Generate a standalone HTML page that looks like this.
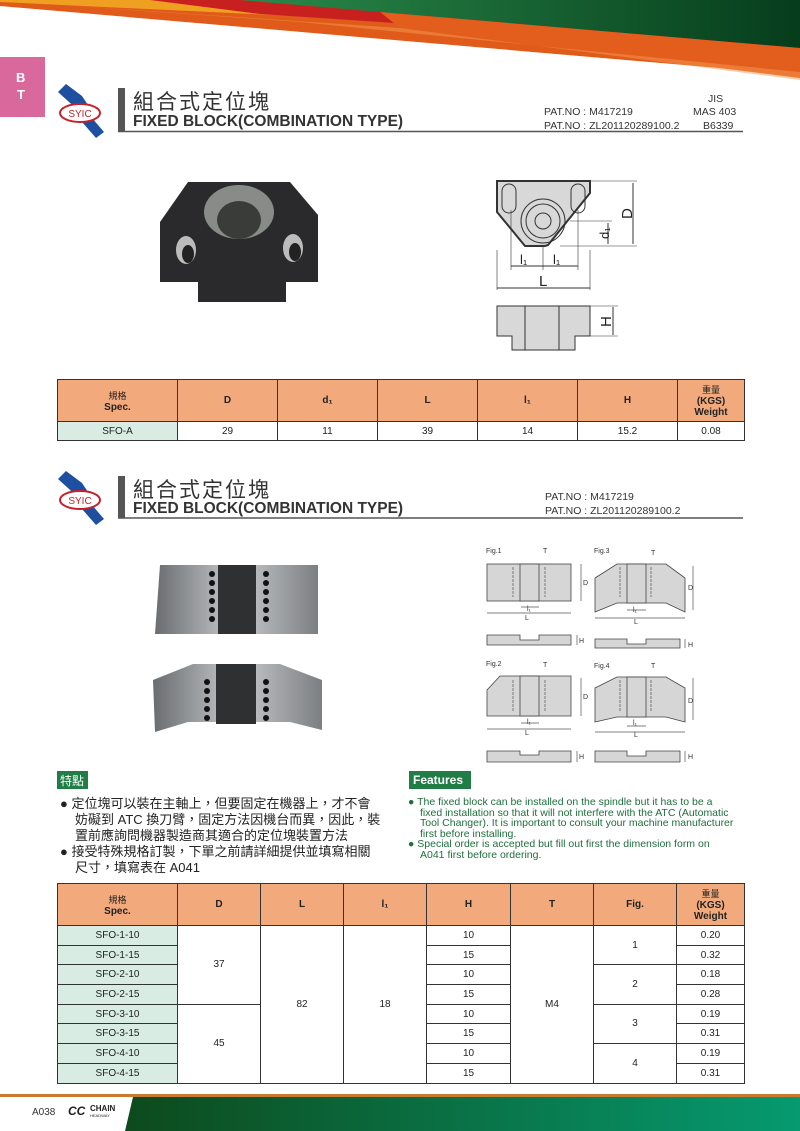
<!DOCTYPE html>
<html><head><meta charset="utf-8"><style>
*{margin:0;padding:0;box-sizing:border-box}
body{width:800px;height:1131px;position:relative;background:#fff;font-family:"Liberation Sans","Noto Sans CJK TC",sans-serif;overflow:hidden;color:#222}
.a{position:absolute}
table{border-collapse:collapse;position:absolute;font-size:10px;text-align:center}
td{border:1.5px solid #333;padding:0}
.h td{background:#f2a97c;font-weight:bold;font-size:10px}
.s{background:#d8ece4}
.ttl{font-size:21px;letter-spacing:2px;color:#333}
.en{font-size:15.5px;font-weight:bold;color:#333}
.pat{font-size:10.5px;color:#333}
</style></head><body>
<svg class="a" style="left:0;top:0" width="800" height="1131">
<defs>
<linearGradient id="g1" x1="0" x2="1"><stop offset="0" stop-color="#2a8a4a"/><stop offset="1" stop-color="#063d1c"/></linearGradient>
<linearGradient id="g2" x1="0" x2="1"><stop offset="0" stop-color="#0d4a1c"/><stop offset="1" stop-color="#069a70"/></linearGradient>
<linearGradient id="met" x1="0" x2="1"><stop offset="0" stop-color="#6a6d70"/><stop offset=".5" stop-color="#c8cbcd"/><stop offset="1" stop-color="#7c7f82"/></linearGradient>
</defs>
<polygon points="0,0 800,0 800,75 0,6" fill="#e05a1a"/>
<polygon points="0,0 800,0 800,55 380,20 0,2" fill="#f0a020"/>
<polygon points="150,0 800,0 800,50 260,14" fill="#c8201e"/>
<polygon points="240,0 800,0 800,48 380,12" fill="url(#g1)"/>
<polygon points="380,12 800,48 800,78 400,28" fill="#e35d1c"/>
<polygon points="30,3 400,28 800,80 800,72 300,22" fill="#f39a50" opacity=".5"/>
<rect x="0" y="57" width="45" height="60" fill="#d9699c"/>
<text x="16" y="82" font-size="13" font-weight="bold" fill="#fff" font-family="Liberation Sans">B</text>
<text x="17" y="99" font-size="13" font-weight="bold" fill="#fff" font-family="Liberation Sans">T</text>
<g id="logo">
<polygon points="58,92 66,84 82,96 90,108 80,112" fill="#1e4fa0"/>
<polygon points="82,122 92,118 104,132 96,138" fill="#1e4fa0"/>
<ellipse cx="80" cy="113" rx="20" ry="9" fill="#fff" stroke="#c8202a" stroke-width="2"/>
<text x="80" y="117" font-size="10" fill="#c8202a" text-anchor="middle" font-family="Liberation Sans">SYIC</text>
</g>
<use href="#logo" y="387"/>
<rect x="118" y="88" width="7" height="43" fill="#555"/>
<rect x="118" y="476" width="7" height="42" fill="#555"/>
<line x1="118" y1="131.5" x2="743" y2="131.5" stroke="#555" stroke-width="1.5"/>
<line x1="118" y1="518" x2="743" y2="518" stroke="#555" stroke-width="1.5"/>
<polygon points="188,182 290,182 318,215 318,282 286,282 286,302 198,302 198,282 160,282 160,222" fill="#2a2a2c"/>
<ellipse cx="239" cy="212" rx="35" ry="27" fill="#888c88"/>
<ellipse cx="239" cy="220" rx="22" ry="19" fill="#3a3c3a"/>
<ellipse cx="186" cy="250" rx="10" ry="14" fill="#bcbcbc"/><ellipse cx="188" cy="254" rx="6" ry="9" fill="#222"/>
<ellipse cx="293" cy="248" rx="10" ry="14" fill="#bcbcbc"/><ellipse cx="295" cy="252" rx="6" ry="9" fill="#222"/>
<g stroke="#333" fill="none" stroke-width="1">
<polygon points="497,181 590,181 590,193 548,245 545,246 525,246 497,212" fill="#d8d8d8" stroke-width="2"/>
<rect x="502" y="184" width="14" height="29" rx="7"/><rect x="571" y="184" width="14" height="29" rx="7"/>
<circle cx="543" cy="221" r="22"/><circle cx="543" cy="221" r="17"/><circle cx="543" cy="221" r="8"/>
<line x1="590" y1="181" x2="637" y2="181" stroke-width=".6"/><line x1="560" y1="246" x2="637" y2="246" stroke-width=".6"/>
<line x1="633" y1="183" x2="633" y2="244"/><line x1="570" y1="221" x2="612" y2="221" stroke-width=".6"/><line x1="608" y1="223" x2="608" y2="244"/>
<line x1="497" y1="250" x2="497" y2="290" stroke-width=".6"/><line x1="590" y1="250" x2="590" y2="290" stroke-width=".6"/>
<line x1="511" y1="210" x2="511" y2="270" stroke-width=".6"/><line x1="578" y1="210" x2="578" y2="270" stroke-width=".6"/><line x1="543" y1="246" x2="543" y2="270" stroke-width=".6"/>
<line x1="511" y1="266" x2="578" y2="266"/><line x1="497" y1="288" x2="590" y2="288"/>
<polygon points="497,306 590,306 590,336 575,336 575,350 512,350 512,336 497,336" fill="#d8d8d8"/>
<line x1="525" y1="306" x2="525" y2="350"/><line x1="559" y1="306" x2="559" y2="350"/>
<line x1="590" y1="306" x2="618" y2="306" stroke-width=".6"/><line x1="590" y1="336" x2="618" y2="336" stroke-width=".6"/><line x1="613" y1="307" x2="613" y2="335"/>
</g>
<g font-family="Liberation Sans" fill="#222" font-size="15">
<text x="619" y="218" transform="rotate(-90 626 212)">D</text>
<text x="593" y="241" transform="rotate(-90 600 232)" font-size="13">d₁</text>
<text x="520" y="264" font-size="13">l₁</text><text x="553" y="264" font-size="13">l₁</text>
<text x="539" y="286">L</text>
<text x="598" y="328" transform="rotate(-90 604 321)">H</text>
</g>
<polygon points="160,565 318,565 318,634 155,634" fill="url(#met)"/>
<rect x="218" y="565" width="38" height="69" fill="#2e3032"/>
<polygon points="153,680 193,664 280,664 322,680 322,730 290,722 188,722 155,732" fill="url(#met)"/>
<rect x="216" y="664" width="40" height="60" fill="#2e3032"/>
<g fill="#111"><circle cx="212" cy="574" r="3"/><circle cx="212" cy="583" r="3"/><circle cx="212" cy="592" r="3"/><circle cx="212" cy="601" r="3"/><circle cx="212" cy="610" r="3"/><circle cx="212" cy="619" r="3"/>
<circle cx="266" cy="574" r="3"/><circle cx="266" cy="583" r="3"/><circle cx="266" cy="592" r="3"/><circle cx="266" cy="601" r="3"/><circle cx="266" cy="610" r="3"/><circle cx="266" cy="619" r="3"/>
<circle cx="207" cy="682" r="3"/><circle cx="207" cy="691" r="3"/><circle cx="207" cy="700" r="3"/><circle cx="207" cy="709" r="3"/><circle cx="207" cy="718" r="3"/>
<circle cx="266" cy="682" r="3"/><circle cx="266" cy="691" r="3"/><circle cx="266" cy="700" r="3"/><circle cx="266" cy="709" r="3"/><circle cx="266" cy="718" r="3"/></g>
<g stroke="#444" stroke-width=".8" fill="#d6d6d6">
<rect x="487" y="564" width="84" height="37"/><rect x="520" y="564" width="19" height="37"/>
<polygon points="595,578 617,564 666,564 685,578 685,612 666,603 617,603 595,612"/><rect x="627" y="564" width="19" height="39"/>
<polygon points="487,690 500,676 571,676 571,716 487,716"/><rect x="520" y="676" width="19" height="40"/>
<polygon points="595,688 617,677 666,677 685,688 685,722 666,717 617,717 595,722"/><rect x="627" y="677" width="19" height="40"/>
<polygon points="487,635 520,635 520,640 539,640 539,635 571,635 571,645 487,645"/>
<polygon points="595,639 627,639 627,644 646,644 646,639 680,639 680,648 595,648"/>
<polygon points="487,751 520,751 520,755 539,755 539,751 571,751 571,762 487,762"/>
<polygon points="595,751 627,751 627,756 646,756 646,751 680,751 680,762 595,762"/>
</g>
<g fill="none" stroke="#555" stroke-width=".7">
<path d="M513 567v30M545 567v30M620 567v30M651 567v30M513 680v32M545 680v32M620 680v32M651 680v32" stroke-dasharray="3 1"/>
<path d="M487 613h84M521 607h18M595 618h90M627 610h19M487 729h84M521 723h18M595 732h90M627 726h19M581 564v37M693 566v44M581 678v38M693 678v42M577 635v10M685 639v9M577 751v11M685 751v11"/>
</g>
<g font-family="Liberation Sans" font-size="7" fill="#333">
<text x="486" y="553">Fig.1</text><text x="594" y="553">Fig.3</text><text x="486" y="666">Fig.2</text><text x="594" y="668">Fig.4</text>
<text x="543" y="553">T</text><text x="651" y="555">T</text><text x="543" y="667">T</text><text x="651" y="668">T</text>
<text x="527" y="611">l₁</text>
<text x="633" y="612">l₁</text><text x="527" y="724">l₁</text><text x="633" y="725">l₁</text>
<text x="525" y="620">L</text><text x="634" y="624">L</text><text x="525" y="735">L</text><text x="634" y="737">L</text>
<text x="583" y="585">D</text><text x="688" y="590">D</text><text x="583" y="699">D</text><text x="688" y="703">D</text>
<text x="579" y="643">H</text><text x="688" y="647">H</text><text x="579" y="759">H</text><text x="688" y="759">H</text>
</g>
<rect x="0" y="1094" width="800" height="3" fill="#c87a30"/>
<polygon points="133,1097 800,1097 800,1131 125,1131" fill="url(#g2)"/>
<text x="32" y="1115" font-size="10" fill="#333" font-family="Liberation Sans">A038</text>
<text x="68" y="1115" font-size="12" font-weight="bold" fill="#222" font-family="Liberation Sans" font-style="italic">CC</text>
<text x="90" y="1111" font-size="8" font-weight="bold" fill="#222" font-family="Liberation Sans">CHAIN</text>
<text x="90" y="1117" font-size="4" fill="#222" font-family="Liberation Sans">HEADWAY</text>
</svg>

<div class="a ttl" style="left:133px;top:86px">組合式定位塊</div>
<div class="a en" style="left:133px;top:113px">FIXED BLOCK(COMBINATION TYPE)</div>
<div class="a pat" style="left:544px;top:106px">PAT.NO : M417219</div>
<div class="a pat" style="left:544px;top:120px">PAT.NO : ZL201120289100.2</div>
<div class="a pat" style="left:708px;top:93px">JIS</div>
<div class="a pat" style="left:693px;top:106px">MAS 403</div>
<div class="a pat" style="left:703px;top:120px">B6339</div>

<div class="a ttl" style="left:133px;top:474px">組合式定位塊</div>
<div class="a en" style="left:133px;top:500px">FIXED BLOCK(COMBINATION TYPE)</div>
<div class="a pat" style="left:545px;top:491px">PAT.NO : M417219</div>
<div class="a pat" style="left:545px;top:505px">PAT.NO : ZL201120289100.2</div>

<table style="left:57px;top:379px;width:688px">
<tr class="h" style="height:42px"><td style="width:120px;font-weight:normal"><span style="font-size:9px">規格</span><br><b>Spec.</b></td><td style="width:100px">D</td><td style="width:100px">d₁</td><td style="width:100px">L</td><td style="width:100px">l₁</td><td style="width:100px">H</td><td><span style="font-weight:normal;font-size:9px">重量</span><br>(KGS)<br>Weight</td></tr>
<tr style="height:19px"><td class="s">SFO-A</td><td>29</td><td>11</td><td>39</td><td>14</td><td>15.2</td><td>0.08</td></tr>
</table>

<div class="a" style="left:57px;top:771px;width:31px;height:18px;background:#1f7d45;color:#fff;font-size:12px;padding:1px 3px">特點</div>
<div class="a" style="left:409px;top:771px;width:62px;height:18px;background:#1f7d45;color:#fff;font-size:12px;font-weight:bold;padding:2px 4px">Features</div>
<div class="a" style="left:60px;top:796px;width:345px;font-size:13px;line-height:16px;color:#222">
<div style="padding-left:15px;text-indent:-15px">● 定位塊可以裝在主軸上，但要固定在機器上，才不會<br>妨礙到 ATC 換刀臂，固定方法因機台而異，因此，裝<br>置前應詢問機器製造商其適合的定位塊裝置方法</div>
<div style="padding-left:15px;text-indent:-15px">● 接受特殊規格訂製，下單之前請詳細提供並填寫相關<br>尺寸，填寫表在 A041</div>
</div>
<div class="a" style="left:408px;top:797px;width:345px;font-size:10.5px;line-height:10.5px;color:#1f6e3c">
<div style="padding-left:12px;text-indent:-12px">● The fixed block can be installed on the spindle but it has to be a<br>fixed installation so that it will not interfere with the ATC (Automatic<br>Tool Changer). It is important to consult your machine manufacturer<br>first before installing.</div>
<div style="padding-left:12px;text-indent:-12px">● Special order is accepted but fill out first the dimension form on<br>A041 first before ordering.</div>
</div>

<table style="left:57px;top:883px;width:688px">
<tr class="h" style="height:42px"><td style="width:120px;font-weight:normal"><span style="font-size:9px">規格</span><br><b>Spec.</b></td><td style="width:83px">D</td><td style="width:83px">L</td><td style="width:83px">l₁</td><td style="width:84px">H</td><td style="width:83px">T</td><td style="width:83px">Fig.</td><td><span style="font-weight:normal;font-size:9px">重量</span><br>(KGS)<br>Weight</td></tr>
<tr style="height:19.7px"><td class="s">SFO-1-10</td><td rowspan="4">37</td><td rowspan="8">82</td><td rowspan="8">18</td><td>10</td><td rowspan="8">M4</td><td rowspan="2">1</td><td>0.20</td></tr>
<tr style="height:19.7px"><td class="s">SFO-1-15</td><td>15</td><td>0.32</td></tr>
<tr style="height:19.7px"><td class="s">SFO-2-10</td><td>10</td><td rowspan="2">2</td><td>0.18</td></tr>
<tr style="height:19.7px"><td class="s">SFO-2-15</td><td>15</td><td>0.28</td></tr>
<tr style="height:19.7px"><td class="s">SFO-3-10</td><td rowspan="4">45</td><td>10</td><td rowspan="2">3</td><td>0.19</td></tr>
<tr style="height:19.7px"><td class="s">SFO-3-15</td><td>15</td><td>0.31</td></tr>
<tr style="height:19.7px"><td class="s">SFO-4-10</td><td>10</td><td rowspan="2">4</td><td>0.19</td></tr>
<tr style="height:19.7px"><td class="s">SFO-4-15</td><td>15</td><td>0.31</td></tr>
</table>
</body></html>
